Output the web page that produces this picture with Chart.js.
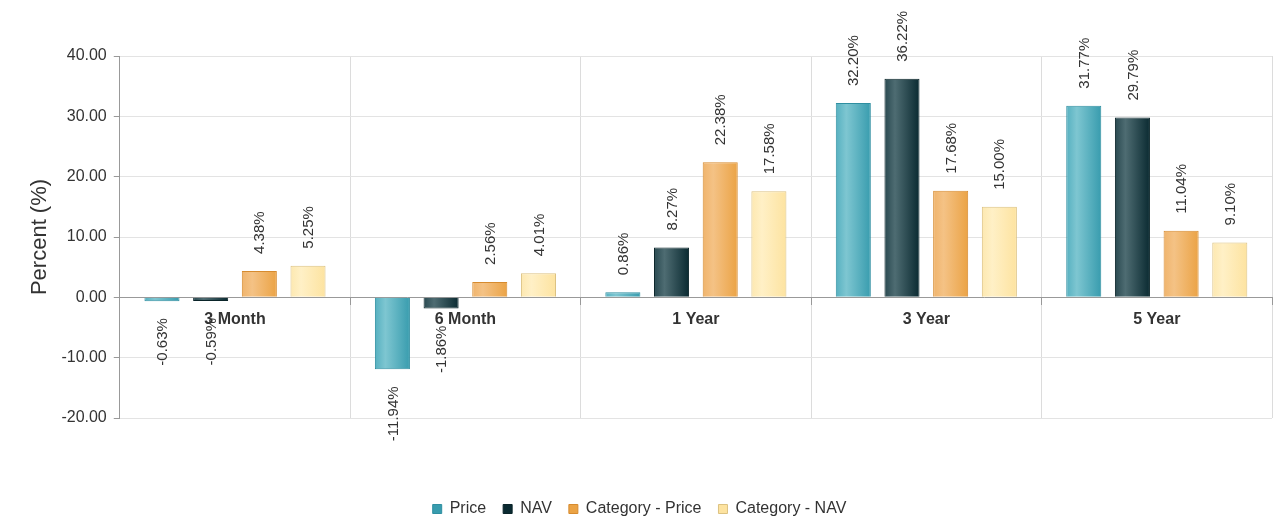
<!DOCTYPE html>
<html>
<head>
<meta charset="utf-8">
<script src="https://cdn.jsdelivr.net/npm/chart.js@4"></script>
<style>
  html, body { margin: 0; padding: 0; background: #fff; }
</style>
</head>
<body>
<canvas id="perfChart" width="1280" height="524"></canvas>
<script>
const categories = ["3 Month", "6 Month", "1 Year", "3 Year", "5 Year"];
const priceValues = [-0.63, -11.94, 0.86, 32.20, 31.77];
const navValues = [-0.59, -1.86, 8.27, 36.22, 29.79];
const catPriceValues = [4.38, 2.56, 22.38, 17.68, 11.04];
const catNavValues = [5.25, 4.01, 17.58, 15.00, 9.10];
const seriesNames = ["Price", "NAV", "Category - Price", "Category - NAV"];
const yMin = -20, yMax = 40, yStep = 10;

const FONT = "'Liberation Sans', Arial, sans-serif";

// flat colour, then gradient stops (edge, highlight, dark edge), then border
const palette = [
    { base: '#3fa5b8', stops: ['#55b0c0', '#7ec6d1', '#389cae'], border: '#2f8fa1' },
    { base: '#0d2f36', stops: ['#294950', '#4e6c72', '#0a2a31'], border: '#0a2429' },
    { base: '#eca244', stops: ['#f0b46c', '#f4c285', '#eba345'], border: '#d68b2f' },
    { base: '#fde4a0', stops: ['#fde8b0', '#fff0c6', '#fde3a0'], border: '#dcc281' }
];

function barFill(i) {
    return function(c) {
        const el = c.element;
        if (!el || el.width == null || isNaN(el.x)) return palette[i].base;
        const g = c.chart.ctx.createLinearGradient(el.x - el.width / 2, 0, el.x + el.width / 2, 0);
        g.addColorStop(0, palette[i].stops[0]);
        g.addColorStop(0.3, palette[i].stops[1]);
        g.addColorStop(1, palette[i].stops[2]);
        return g;
    };
}

// rotated value labels above / below each bar
const valueLabels = {
    id: 'valueLabels',
    afterDatasetsDraw(chart) {
        const ctx = chart.ctx;
        ctx.save();
        ctx.font = "15px " + FONT;
        ctx.fillStyle = '#333';
        ctx.textBaseline = 'middle';
        chart.data.datasets.forEach((ds, di) => {
            chart.getDatasetMeta(di).data.forEach((bar, i) => {
                const v = ds.data[i];
                const txt = v.toFixed(2) + '%';
                ctx.save();
                if (v >= 0) {
                    ctx.translate(bar.x, bar.y - 17);
                    ctx.textAlign = 'left';
                } else {
                    ctx.translate(bar.x, bar.y + 17);
                    ctx.textAlign = 'right';
                }
                ctx.rotate(-Math.PI / 2);
                ctx.fillText(txt, 0, 1);
                ctx.restore();
            });
        });
        ctx.restore();
    }
};

const allSeries = [priceValues, navValues, catPriceValues, catNavValues];

const chart = new Chart(document.getElementById("perfChart"), {
    type: "bar",
    data: {
        labels: categories,
        datasets: allSeries.map((vals, i) => ({
            label: seriesNames[i],
            data: vals,
            backgroundColor: barFill(i),
            borderColor: palette[i].border,
            borderWidth: 1,
            categoryPercentage: 0.845,
            barPercentage: 0.72
        }))
    },
    options: {
        responsive: false,
        animation: false,
        layout: { padding: { left: 7, right: 8, top: 56, bottom: -3 } },
        plugins: {
            tooltip: { enabled: false },
            legend: {
                position: 'bottom',
                title: { display: true, text: ' ', font: { size: 10, lineHeight: 1 }, padding: { top: 56, bottom: 0 } },
                labels: {
                    color: '#333',
                    font: { family: FONT, size: 16 },
                    boxWidth: 9,
                    boxHeight: 9,
                    padding: 17
                }
            }
        },
        scales: {
            x: {
                position: { y: 0 },
                z: 1,
                border: { color: '#999' },
                grid: { color: '#dcdcdc', tickColor: '#999', tickLength: 7 },
                ticks: { color: '#333', maxRotation: 0, font: { family: FONT, size: 16, weight: 'bold' }, padding: 6 }
            },
            y: {
                min: yMin,
                max: yMax,
                border: { color: '#999' },
                grid: { color: '#e3e3e3', tickColor: '#999', tickLength: 6 },
                ticks: {
                    stepSize: yStep,
                    color: '#333',
                    font: { family: FONT, size: 16 },
                    padding: 7,
                    callback: v => v.toFixed(2)
                },
                title: {
                    display: true,
                    text: 'Percent (%)',
                    color: '#333',
                    font: { family: FONT, size: 22 },
                    padding: { top: 20, bottom: 1 }
                }
            }
        }
    },
    plugins: [valueLabels]
});
chart.update();
</script>
</body>
</html>
